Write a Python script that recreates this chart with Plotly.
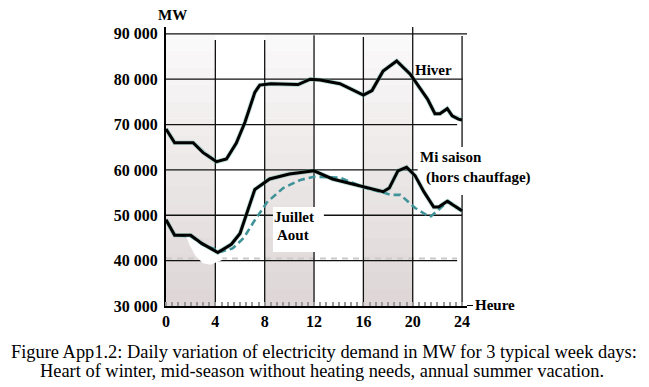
import plotly.graph_objects as go

# ---------------- data ----------------
hours_hiver = [0, 0.7, 2.2, 3.0, 3.3, 4.1, 4.9, 5.7, 6.4, 7.2, 7.6, 8.5, 10.7, 11.7, 12.5, 14.1,
               16.0, 16.7, 17.6, 18.7, 19.8, 21.2, 21.8, 22.2, 22.8, 23.2, 23.7, 24]
hiver = [69000, 66000, 66000, 63800, 63300, 61800, 62400, 65900, 70500, 77100, 78700, 79000, 78800,
         80000, 79800, 79000, 76500, 77500, 81800, 84000, 81100, 75600, 72400, 72400, 73500, 71900,
         71200, 71000]

hours_mi = [0, 0.7, 2.0, 2.9, 4.2, 5.3, 6.0, 7.2, 8.4, 10.0, 12.0, 13.5, 17.6, 18.1, 18.8, 19.5,
            20.2, 20.9, 21.7, 22.1, 22.8, 24]
mi_saison = [49000, 45600, 45600, 43800, 41800, 43600, 46000, 55700, 58000, 59100, 59800, 58000,
             55200, 56000, 59800, 60600, 58700, 55200, 51800, 51800, 53100, 51000]

hours_ete = [0, 0.7, 2.0, 3.0, 4.5, 5.4, 6.3, 7.1, 8.2, 9.5, 10.9, 12.0, 14.1, 16.0, 17.6, 18.2,
             19.0, 20.2, 21.4, 22.2, 22.9, 24]
juillet_aout = [49000, 45600, 45400, 43500, 42000, 42700, 45000, 48500, 52900, 56000, 57800, 58500,
                58300, 56200, 55000, 54500, 54500, 51600, 49600, 51400, 53100, 50800]

x_ticks = [0, 4, 8, 12, 16, 20, 24]
y_ticks = [30000, 40000, 50000, 60000, 70000, 80000, 90000]
y_tick_labels = ["30 000", "40 000", "50 000", "60 000", "70 000", "80 000", "90 000"]
shaded_periods = [(0, 4), (8, 12), (16, 20)]

# ---------------- geometry helpers ----------------
L, R, T, B = 166, 182, 27, 81
W, H = 649, 387
PW, PH = W - L - R, H - T - B


def pxx(x):
    return (x - L) / PW


def pxy(y):
    return (H - B - y) / PH


FONT = "Liberation Serif"
shapes = []

# gradient shaded bands
n = 16
for a, b in shaded_periods:
    for i in range(n):
        y0 = 30000 + i * (60000 / n)
        y1 = y0 + 60000 / n
        f = i / (n - 1)
        c = int(223 + f * (250 - 223))
        c2 = int(215 + f * (249 - 215))
        shapes.append(dict(type="rect", xref="x", yref="y", x0=a, x1=b, y0=y0, y1=y1,
                           fillcolor=f"rgb({c},{c2},{c2})", line=dict(width=0), layer="below"))

# horizontal grid lines
h_ext = {40000: 23.6, 50000: 24.0, 60000: 20.4, 70000: 23.6, 80000: 24.05, 90000: 24.4}
for yv, xe in h_ext.items():
    shapes.append(dict(type="line", xref="x", yref="y", x0=0, x1=xe, y0=yv, y1=yv,
                       line=dict(color="#111", width=1.3), layer="below"))
# faint grey dashed line just above 40 000
shapes.append(dict(type="line", xref="x", yref="y", x0=0, x1=23.6, y0=40450, y1=40450,
                   line=dict(color="#c9c9c9", width=2, dash="6px,5px"), layer="below"))

# vertical grid lines
v_segs = [(4, 30000, 88630), (8, 30000, 88630), (12, 30000, 89700), (16, 30000, 89300),
          (20, 30000, 91500), (24, 30000, 54460), (24, 65040, 89500)]
for xv, y0, y1 in v_segs:
    shapes.append(dict(type="line", xref="x", yref="y", x0=xv, x1=xv, y0=y0, y1=y1,
                       line=dict(color="#111", width=1.3), layer="below"))

# white erased patch under the curves
shapes.append(dict(type="path", xref="x", yref="y",
                   path="M 1.6,45600 L 2.0,45600 L 2.9,43800 L 4.4,41800 L 4.6,40200 L 3.6,39100 "
                        "L 3.0,39400 L 2.4,41000 L 1.9,43500 Z",
                   fillcolor="white", line=dict(width=0), layer="below"))
# white box behind Juillet / Aout label
shapes.append(dict(type="rect", xref="x", yref="y", x0=8.67, x1=12.8, y0=41900, y1=51800,
                   fillcolor="white", line=dict(width=0), layer="below"))

# dash before "Heure"
shapes.append(dict(type="line", xref="paper", yref="y", x0=1.0, x1=pxx(473), y0=30000, y1=30000,
                   line=dict(color="black", width=2)))

fig = go.Figure()

halo = "rgba(90,175,160,0.4)"
for xs, ys in [(hours_hiver, hiver), (hours_mi, mi_saison)]:
    fig.add_trace(go.Scatter(x=xs, y=ys, mode="lines", line=dict(color=halo, width=4.6),
                             hoverinfo="skip"))

fig.add_trace(go.Scatter(x=hours_ete, y=juillet_aout, mode="lines", name="Juillet Aout",
                         line=dict(color="#3f9399", width=2.6, dash="7px,4px")))
fig.add_trace(go.Scatter(x=hours_hiver, y=hiver, mode="lines", name="Hiver",
                         line=dict(color="black", width=3)))
fig.add_trace(go.Scatter(x=hours_mi, y=mi_saison, mode="lines", name="Mi saison",
                         line=dict(color="black", width=3)))

bold = dict(family=FONT, size=15, color="black")
tickfont = dict(family=FONT, size=16, color="black")
ann = []


def label(text, x, y, anchor="center", font=bold):
    ann.append(dict(text=text, x=pxx(x), y=pxy(y), xref="paper", yref="paper",
                    xanchor=anchor, yanchor="middle", showarrow=False, font=font))


label("<b>MW</b>", 172, 15)
label("<b>Heure</b>", 473, 305, "left")
label("<b>Hiver</b>", 413, 70, "left")
label("<b>Mi saison</b>", 418, 157, "left")
label("<b>(hors chauffage)</b>", 424, 177, "left")
label("<b>Juillet</b>", 294, 217)
label("<b>Aout</b>", 293, 235)
cap = dict(family=FONT, size=18.4, color="black")
label("Figure App1.2: Daily variation of electricity demand in MW for 3 typical week days:",
      324, 352, font=cap)
label("Heart of winter, mid-season without heating needs, annual summer vacation.",
      322, 371, font=cap)

fig.update_layout(
    width=W, height=H, margin=dict(l=L, r=R, t=T, b=B, pad=0),
    paper_bgcolor="white", plot_bgcolor="white", showlegend=False,
    shapes=shapes, annotations=ann,
    xaxis=dict(range=[0, 24.4], tickvals=x_ticks, ticktext=[f"<b>{v}</b>" for v in x_ticks],
               showgrid=False, zeroline=False, showline=True, linecolor="black", linewidth=2,
               ticks="", ticklabelstandoff=0, tickfont=tickfont,
               minor=dict(ticks="inside", tickmode="linear", tick0=0, dtick=0.5, ticklen=4,
                          tickcolor="#999999", tickwidth=1.5, showgrid=False)),
    yaxis=dict(range=[30000, 91500], tickvals=y_ticks,
               ticktext=[f"<b>{t}</b>" for t in y_tick_labels],
               showgrid=False, zeroline=False, showline=True, linecolor="black", linewidth=2,
               ticks="", ticklabelstandoff=3, tickfont=tickfont),
)

fig.write_html("out.html", config={"displayModeBar": False},
               post_script="document.body.style.margin='0';document.body.style.padding='0';")
